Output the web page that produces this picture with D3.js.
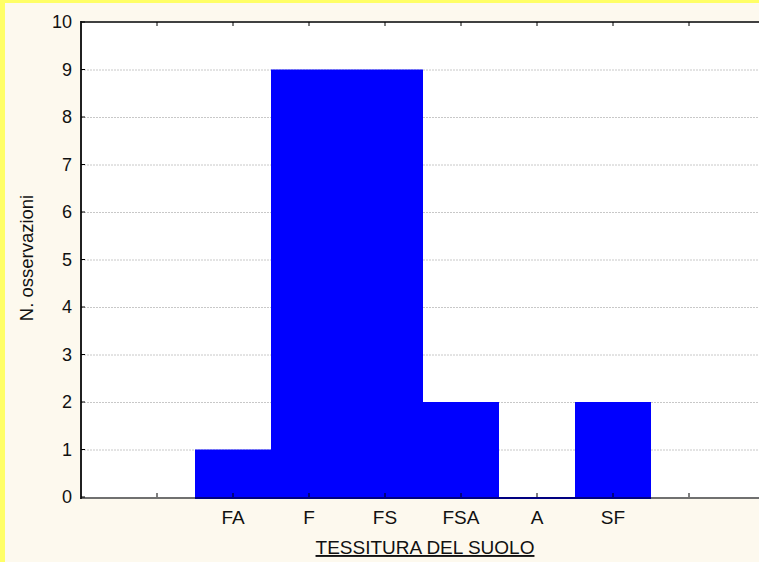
<!DOCTYPE html>
<html>
<head>
<meta charset="utf-8">
<script src="https://cdn.jsdelivr.net/npm/d3@7"></script>
<style>
  body { margin: 0; background: #fdf9ee; }
  svg { display: block; font-family: "Liberation Sans", Arial, sans-serif; }
</style>
</head>
<body>
<svg id="chart"></svg>
<script>
// data
const categories = ["FA", "F", "FS", "FSA", "A", "SF"];
const counts = [1, 9, 9, 2, 0, 2];
const yTicks = [0, 1, 2, 3, 4, 5, 6, 7, 8, 9, 10];

const width = 759;
const height = 562;
const plot = { left: 81, top: 22, bottom: 497 };

const svg = d3.select("#chart")
    .attr("width", width)
    .attr("height", height);

// background + yellow frame
svg.append("rect").attr("width", width).attr("height", height).attr("fill", "#fdf9ee");
svg.append("rect").attr("x", 0).attr("y", 0).attr("width", 5).attr("height", height).attr("fill", "#ffff66");
svg.append("rect").attr("x", 0).attr("y", 0).attr("width", width).attr("height", 3).attr("fill", "#ffff66");

// slot positions: empty slot either side of the categories
const x = d3.scaleLinear().domain([-2, 7]).range([plot.left, plot.left + 76 * 9]);
const y = d3.scaleLinear().domain([0, 10]).range([plot.bottom, plot.top]);

svg.append("rect")
    .attr("x", plot.left).attr("y", plot.top)
    .attr("width", width - plot.left).attr("height", plot.bottom - plot.top)
    .attr("fill", "#fff");

// grid
svg.append("g").selectAll("line")
    .data(yTicks.filter(d => d > 0 && d < 10))
    .join("line")
    .attr("x1", plot.left).attr("x2", width)
    .attr("y1", d => y(d) + 0.5).attr("y2", d => y(d) + 0.5)
    .attr("stroke", "#c8c8c8")
    .attr("stroke-dasharray", "2,1");

// axes
const xTickPos = d3.range(-1, 8);
const axisG = svg.append("g");
axisG.append("line")
    .attr("x1", plot.left).attr("x2", width)
    .attr("y1", plot.bottom + 1).attr("y2", plot.bottom + 1)
    .attr("stroke", "#707070").attr("stroke-width", 2);
axisG.append("line")
    .attr("x1", plot.left).attr("x2", width)
    .attr("y1", plot.top).attr("y2", plot.top)
    .attr("stroke", "#404040").attr("stroke-width", 2);

// bars
const bars = svg.append("g");
bars.selectAll("rect")
    .data(counts)
    .join("rect")
    .attr("x", (d, i) => x(i - 0.5))
    .attr("width", x(1) - x(0))
    .attr("y", d => y(d))
    .attr("height", d => y(0) - y(d))
    .attr("fill", "#0000ff");
bars.selectAll("line")
    .data(counts)
    .join("line")
    .attr("x1", (d, i) => x(i - 0.5))
    .attr("x2", (d, i) => x(i + 0.5))
    .attr("y1", plot.bottom + 1).attr("y2", plot.bottom + 1)
    .attr("stroke", "#000080").attr("stroke-width", 2);

axisG.append("line")
    .attr("x1", plot.left).attr("x2", plot.left)
    .attr("y1", plot.top - 1).attr("y2", plot.bottom + 2)
    .attr("stroke", "#202020").attr("stroke-width", 2);

const ticksG = svg.append("g");
ticksG.selectAll("line.xt-bot")
    .data(xTickPos)
    .join("line")
    .attr("class", "xt-bot")
    .attr("x1", d => x(d)).attr("x2", d => x(d))
    .attr("y1", plot.bottom).attr("y2", plot.bottom - 4)
    .attr("stroke", "#000");
ticksG.selectAll("line.xt-top")
    .data(xTickPos)
    .join("line")
    .attr("class", "xt-top")
    .attr("x1", d => x(d)).attr("x2", d => x(d))
    .attr("y1", plot.top).attr("y2", plot.top + 4)
    .attr("stroke", "#000");
ticksG.selectAll("line.yt")
    .data(yTicks)
    .join("line")
    .attr("class", "yt")
    .attr("x1", plot.left).attr("x2", plot.left + 4)
    .attr("y1", d => y(d)).attr("y2", d => y(d))
    .attr("stroke", "#000");

// tick labels
svg.append("g").selectAll("text")
    .data(yTicks)
    .join("text")
    .attr("x", 72)
    .attr("y", d => y(d))
    .attr("dy", "0.36em")
    .attr("text-anchor", "end")
    .style("font-size", "18px")
    .attr("fill", "#111")
    .text(d => d);

svg.append("g").selectAll("text")
    .data(categories)
    .join("text")
    .attr("x", (d, i) => x(i))
    .attr("y", 524)
    .attr("text-anchor", "middle")
    .style("font-size", "19px")
    .attr("fill", "#111")
    .text(d => d);

// axis titles
svg.append("text")
    .attr("x", 425)
    .attr("y", 554)
    .attr("text-anchor", "middle")
    .style("font-size", "19px")
    .style("text-decoration", "underline")
    .attr("fill", "#111")
    .text("TESSITURA DEL SUOLO");

svg.append("text")
    .attr("transform", "translate(33, 258) rotate(-90)")
    .attr("text-anchor", "middle")
    .style("font-size", "18.5px")
    .attr("fill", "#111")
    .text("N. osservazioni");
</script>
</body>
</html>
